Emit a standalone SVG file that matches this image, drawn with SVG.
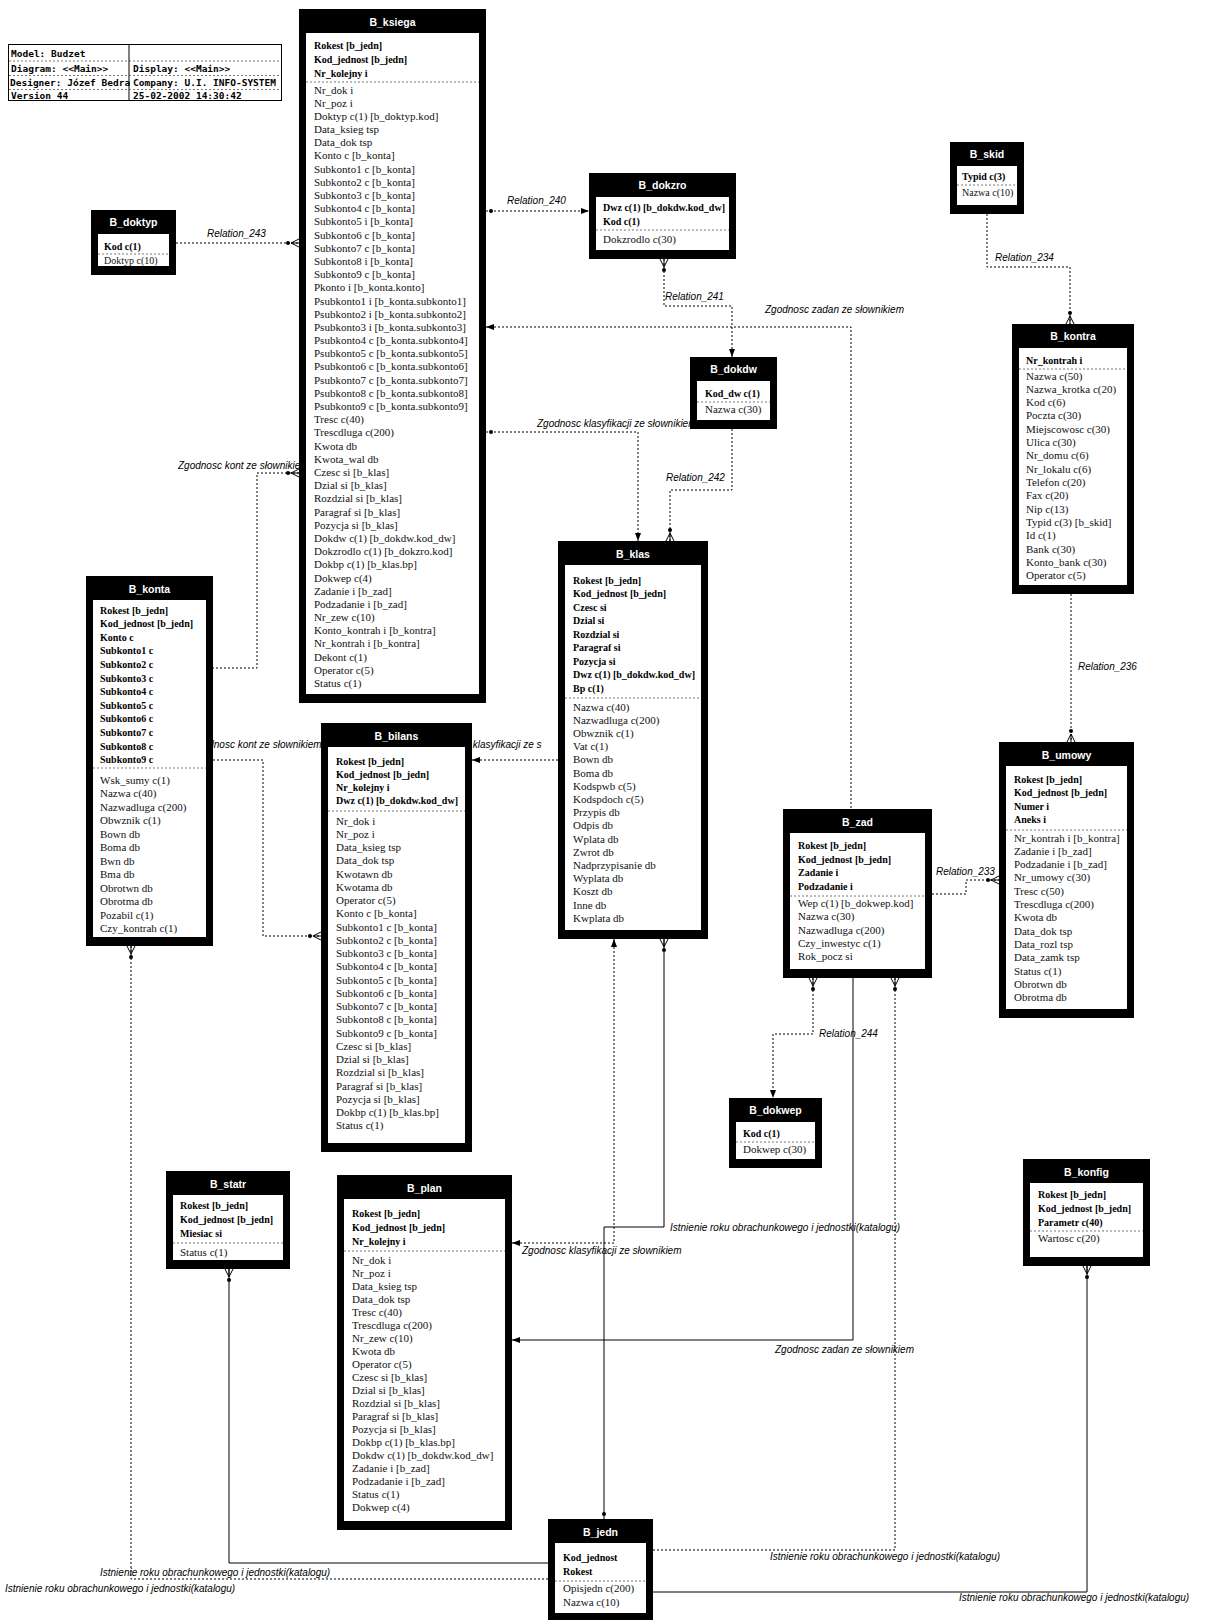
<svg xmlns="http://www.w3.org/2000/svg" width="1231" height="1620" viewBox="0 0 1231 1620">
<style>
.ob{fill:#000}
.ib{fill:#fff}
.tt{font-family:"Liberation Sans",Arial,sans-serif;font-weight:bold;font-size:10.5px;fill:#fff;text-anchor:middle}
.k{font-family:"Liberation Serif","Times New Roman",serif;font-size:10px;font-weight:bold;fill:#000}
.a{font-family:"Liberation Serif","Times New Roman",serif;font-size:11px;fill:#111}
.sm{font-size:10px}
.sep{stroke:#555;stroke-width:0.8;stroke-dasharray:2 2}
.cn{fill:none;stroke:#000;stroke-width:1}
.d{stroke-dasharray:2 2}
.lb{font-family:"Liberation Sans",Arial,sans-serif;font-style:italic;font-size:10px;fill:#000}
.inf{font-family:"DejaVu Sans Mono",monospace;font-weight:bold;font-size:9.5px;fill:#000}
</style>
<defs>
<marker id="cf" viewBox="0 0 14 10" refX="14" refY="5" markerWidth="14" markerHeight="10" markerUnits="userSpaceOnUse" orient="auto-start-reverse">
<path d="M6,5 L14,1 M6,5 L14,9 M6,5 L14,5" stroke="#000" stroke-width="1" fill="none"/>
<circle cx="3" cy="5" r="2" fill="#000"/>
</marker>
<marker id="ar" viewBox="0 0 8 8" refX="8" refY="4" markerWidth="8" markerHeight="8" markerUnits="userSpaceOnUse" orient="auto-start-reverse">
<path d="M0,1 L8,4 L0,7 z" fill="#000"/>
</marker>
<marker id="dt" viewBox="0 0 8 6" refX="8" refY="3" markerWidth="8" markerHeight="6" markerUnits="userSpaceOnUse" orient="auto-start-reverse">
<circle cx="3" cy="3" r="2" fill="#000"/>
</marker>
<clipPath id="c5"><rect x="530" y="410" width="160" height="25"/></clipPath>
<clipPath id="c7"><rect x="170" y="455" width="129" height="20"/></clipPath>
<clipPath id="c8"><rect x="213" y="735" width="108" height="20"/></clipPath>
<clipPath id="c9"><rect x="472" y="735" width="86" height="20"/></clipPath>
</defs>
<rect width="1231" height="1620" fill="#fff"/>

<g id="info">
<rect x="8.5" y="44.5" width="273" height="56" fill="none" stroke="#000" stroke-width="1"/>
<line x1="129" y1="44" x2="129" y2="101" stroke="#000"/>
<line class="sep" x1="9" y1="61" x2="281" y2="61"/>
<line class="sep" x1="9" y1="75.5" x2="281" y2="75.5"/>
<line class="sep" x1="9" y1="89.5" x2="281" y2="89.5"/>
<text class="inf" x="11" y="57">Model: Budzet</text>
<text class="inf" x="11" y="72">Diagram: &lt;&lt;Main&gt;&gt;</text>
<text class="inf" x="10" y="86">Designer: Józef Bedra</text>
<text class="inf" x="11" y="99">Version  44</text>
<text class="inf" x="133" y="72">Display: &lt;&lt;Main&gt;&gt;</text>
<text class="inf" x="133" y="86">Company: U.I. INFO-SYSTEM</text>
<text class="inf" x="133" y="99">25-02-2002  14:30:42</text>
</g>

<g id="connectors">
<path class="cn d" d="M176,243 H299" marker-end="url(#cf)"/>
<path class="cn d" d="M486,211 H589" marker-start="url(#dt)" marker-end="url(#ar)"/>
<path class="cn d" d="M664,259 V306 H732 V357" marker-start="url(#cf)" marker-end="url(#ar)"/>
<path class="cn d" d="M486,327 H851 V809" marker-start="url(#ar)"/>
<path class="cn d" d="M486,432 H638 V541" marker-start="url(#dt)" marker-end="url(#ar)"/>
<path class="cn d" d="M732,429 V490 H670 V541" marker-end="url(#cf)"/>
<path class="cn d" d="M299,473 H257 V668 H213" marker-start="url(#cf)"/>
<path class="cn d" d="M213,760 H263 V936 H321" marker-end="url(#cf)"/>
<path class="cn d" d="M472,760 H558" marker-start="url(#ar)"/>
<path class="cn d" d="M987,214 V267 H1070 V324" marker-end="url(#cf)"/>
<path class="cn d" d="M1071,594 V742" marker-end="url(#cf)"/>
<path class="cn d" d="M932,894 H966 V880 H999" marker-end="url(#cf)"/>
<path class="cn d" d="M813,978 V1034 H773 V1098" marker-start="url(#cf)" marker-end="url(#ar)"/>
<path class="cn" d="M853,978 V1340 H512" marker-end="url(#ar)"/>
<path class="cn d" d="M895,978 V1550 H653" marker-start="url(#cf)"/>
<path class="cn" d="M1087,1266 V1592 H653" marker-start="url(#cf)"/>
<path class="cn" d="M229,1269 V1563 H548" marker-start="url(#cf)"/>
<path class="cn d" d="M131,946 V1579 H548" marker-start="url(#cf)"/>
<path class="cn d" d="M614,939 V1243 H512" marker-start="url(#ar)" marker-end="url(#ar)"/>
<path class="cn" d="M664,939 V1227 H604 V1519" marker-start="url(#cf)" marker-end="url(#dt)"/>
<text class="lb" x="207" y="237">Relation_243</text>
<text class="lb" x="507" y="204">Relation_240</text>
<text class="lb" x="665" y="300">Relation_241</text>
<text class="lb" x="765" y="313">Zgodnosc zadan ze słownikiem</text>
<text class="lb" x="537" y="427" clip-path="url(#c5)">Zgodnosc klasyfikacji ze słownikiem</text>
<text class="lb" x="666" y="481">Relation_242</text>
<text class="lb" x="178" y="469" clip-path="url(#c7)">Zgodnosc kont ze słownikiem</text>
<text class="lb" x="191" y="748" clip-path="url(#c8)">Zgodnosc kont ze słownikiem</text>
<text class="lb" x="426" y="748" clip-path="url(#c9)">Zgodnosc klasyfikacji ze s</text>
<text class="lb" x="995" y="261">Relation_234</text>
<text class="lb" x="1078" y="670">Relation_236</text>
<text class="lb" x="936" y="875">Relation_233</text>
<text class="lb" x="819" y="1037">Relation_244</text>
<text class="lb" x="775" y="1353">Zgodnosc zadan ze słownikiem</text>
<text class="lb" x="770" y="1560">Istnienie roku obrachunkowego i jednostki(katalogu)</text>
<text class="lb" x="959" y="1601">Istnienie roku obrachunkowego i jednostki(katalogu)</text>
<text class="lb" x="100" y="1576">Istnienie roku obrachunkowego i jednostki(katalogu)</text>
<text class="lb" x="5" y="1592">Istnienie roku obrachunkowego i jednostki(katalogu)</text>
<text class="lb" x="522" y="1254">Zgodnosc klasyfikacji ze słownikiem</text>
<text class="lb" x="670" y="1231">Istnienie roku obrachunkowego i jednostki(katalogu)</text>
</g>

<g id="B_ksiega">
<rect class="ob" x="299" y="9" width="187" height="694"/>
<rect class="ib" x="306" y="33" width="173" height="661"/>
<text class="tt" x="392.5" y="26">B_ksiega</text>
<line class="sep" x1="306" y1="82" x2="479" y2="82"/>
<text class="k" x="314" y="49"><tspan x="314">Rokest [b_jedn]</tspan><tspan x="314" dy="14">Kod_jednost [b_jedn]</tspan><tspan x="314" dy="14">Nr_kolejny i</tspan></text>
<text class="a" x="314" y="93.5"><tspan x="314">Nr_dok i</tspan><tspan x="314" dy="13.19">Nr_poz i</tspan><tspan x="314" dy="13.19">Doktyp c(1) [b_doktyp.kod]</tspan><tspan x="314" dy="13.19">Data_ksieg tsp</tspan><tspan x="314" dy="13.19">Data_dok tsp</tspan><tspan x="314" dy="13.19">Konto c [b_konta]</tspan><tspan x="314" dy="13.19">Subkonto1 c [b_konta]</tspan><tspan x="314" dy="13.19">Subkonto2 c [b_konta]</tspan><tspan x="314" dy="13.19">Subkonto3 c [b_konta]</tspan><tspan x="314" dy="13.19">Subkonto4 c [b_konta]</tspan><tspan x="314" dy="13.19">Subkonto5 i [b_konta]</tspan><tspan x="314" dy="13.19">Subkonto6 c [b_konta]</tspan><tspan x="314" dy="13.19">Subkonto7 c [b_konta]</tspan><tspan x="314" dy="13.19">Subkonto8 i [b_konta]</tspan><tspan x="314" dy="13.19">Subkonto9 c [b_konta]</tspan><tspan x="314" dy="13.19">Pkonto i [b_konta.konto]</tspan><tspan x="314" dy="13.19">Psubkonto1 i [b_konta.subkonto1]</tspan><tspan x="314" dy="13.19">Psubkonto2 i [b_konta.subkonto2]</tspan><tspan x="314" dy="13.19">Psubkonto3 i [b_konta.subkonto3]</tspan><tspan x="314" dy="13.19">Psubkonto4 c [b_konta.subkonto4]</tspan><tspan x="314" dy="13.19">Psubkonto5 c [b_konta.subkonto5]</tspan><tspan x="314" dy="13.19">Psubkonto6 c [b_konta.subkonto6]</tspan><tspan x="314" dy="13.19">Psubkonto7 c [b_konta.subkonto7]</tspan><tspan x="314" dy="13.19">Psubkonto8 c [b_konta.subkonto8]</tspan><tspan x="314" dy="13.19">Psubkonto9 c [b_konta.subkonto9]</tspan><tspan x="314" dy="13.19">Tresc c(40)</tspan><tspan x="314" dy="13.19">Trescdluga c(200)</tspan><tspan x="314" dy="13.19">Kwota db</tspan><tspan x="314" dy="13.19">Kwota_wal db</tspan><tspan x="314" dy="13.19">Czesc si [b_klas]</tspan><tspan x="314" dy="13.19">Dzial si [b_klas]</tspan><tspan x="314" dy="13.19">Rozdzial si [b_klas]</tspan><tspan x="314" dy="13.19">Paragraf si [b_klas]</tspan><tspan x="314" dy="13.19">Pozycja si [b_klas]</tspan><tspan x="314" dy="13.19">Dokdw c(1) [b_dokdw.kod_dw]</tspan><tspan x="314" dy="13.19">Dokzrodlo c(1) [b_dokzro.kod]</tspan><tspan x="314" dy="13.19">Dokbp c(1) [b_klas.bp]</tspan><tspan x="314" dy="13.19">Dokwep c(4)</tspan><tspan x="314" dy="13.19">Zadanie i [b_zad]</tspan><tspan x="314" dy="13.19">Podzadanie i [b_zad]</tspan><tspan x="314" dy="13.19">Nr_zew c(10)</tspan><tspan x="314" dy="13.19">Konto_kontrah i [b_kontra]</tspan><tspan x="314" dy="13.19">Nr_kontrah i [b_kontra]</tspan><tspan x="314" dy="13.19">Dekont c(1)</tspan><tspan x="314" dy="13.19">Operator c(5)</tspan><tspan x="314" dy="13.19">Status c(1)</tspan></text>
</g>

<g id="B_doktyp">
<rect class="ob" x="91" y="210" width="85" height="65"/>
<rect class="ib" x="98" y="234" width="71" height="32"/>
<text class="tt" x="133.5" y="226">B_doktyp</text>
<line class="sep" x1="98" y1="254" x2="169" y2="254"/>
<text class="k" x="104" y="249.5">Kod c(1)</text>
<text class="a sm" x="104" y="264">Doktyp c(10)</text>
</g>

<g id="B_dokzro">
<rect class="ob" x="589" y="173" width="147" height="86"/>
<rect class="ib" x="596" y="197" width="133" height="53"/>
<text class="tt" x="662.5" y="189">B_dokzro</text>
<line class="sep" x1="596" y1="230" x2="729" y2="230"/>
<text class="k" x="603" y="210.5"><tspan x="603">Dwz c(1) [b_dokdw.kod_dw]</tspan><tspan x="603" dy="14">Kod c(1)</tspan></text>
<text class="a" x="603" y="242.5">Dokzrodlo c(30)</text>
</g>

<g id="B_dokdw">
<rect class="ob" x="690" y="357" width="87" height="72"/>
<rect class="ib" x="697" y="381" width="73" height="39"/>
<text class="tt" x="733.5" y="373">B_dokdw</text>
<line class="sep" x1="697" y1="402" x2="770" y2="402"/>
<text class="k" x="705" y="396.5">Kod_dw c(1)</text>
<text class="a" x="705" y="412.5">Nazwa c(30)</text>
</g>

<g id="B_skid">
<rect class="ob" x="950" y="142" width="74" height="72"/>
<rect class="ib" x="957" y="166" width="60" height="39"/>
<text class="tt" x="987" y="158">B_skid</text>
<line class="sep" x1="957" y1="185" x2="1017" y2="185"/>
<text class="k" x="962" y="179.5">Typid c(3)</text>
<text class="a sm" x="962" y="195.5">Nazwa c(10)</text>
</g>

<g id="B_kontra">
<rect class="ob" x="1012" y="324" width="122" height="270"/>
<rect class="ib" x="1019" y="348" width="108" height="237"/>
<text class="tt" x="1073" y="340">B_kontra</text>
<line class="sep" x1="1019" y1="369" x2="1127" y2="369"/>
<text class="k" x="1026" y="363.5">Nr_kontrah i</text>
<text class="a" x="1026" y="379.5"><tspan x="1026">Nazwa c(50)</tspan><tspan x="1026" dy="13.33">Nazwa_krotka c(20)</tspan><tspan x="1026" dy="13.33">Kod c(6)</tspan><tspan x="1026" dy="13.33">Poczta c(30)</tspan><tspan x="1026" dy="13.33">Miejscowosc c(30)</tspan><tspan x="1026" dy="13.33">Ulica c(30)</tspan><tspan x="1026" dy="13.33">Nr_domu c(6)</tspan><tspan x="1026" dy="13.33">Nr_lokalu c(6)</tspan><tspan x="1026" dy="13.33">Telefon c(20)</tspan><tspan x="1026" dy="13.33">Fax c(20)</tspan><tspan x="1026" dy="13.33">Nip c(13)</tspan><tspan x="1026" dy="13.33">Typid c(3) [b_skid]</tspan><tspan x="1026" dy="13.33">Id c(1)</tspan><tspan x="1026" dy="13.33">Bank c(30)</tspan><tspan x="1026" dy="13.33">Konto_bank c(30)</tspan><tspan x="1026" dy="13.33">Operator c(5)</tspan></text>
</g>

<g id="B_konta">
<rect class="ob" x="86" y="576" width="127" height="370"/>
<rect class="ib" x="93" y="600" width="113" height="337"/>
<text class="tt" x="149.5" y="593">B_konta</text>
<line class="sep" x1="93" y1="768" x2="206" y2="768"/>
<text class="k" x="100" y="613.5"><tspan x="100">Rokest [b_jedn]</tspan><tspan x="100" dy="13.6">Kod_jednost [b_jedn]</tspan><tspan x="100" dy="13.6">Konto c</tspan><tspan x="100" dy="13.6">Subkonto1 c</tspan><tspan x="100" dy="13.6">Subkonto2 c</tspan><tspan x="100" dy="13.6">Subkonto3 c</tspan><tspan x="100" dy="13.6">Subkonto4 c</tspan><tspan x="100" dy="13.6">Subkonto5 c</tspan><tspan x="100" dy="13.6">Subkonto6 c</tspan><tspan x="100" dy="13.6">Subkonto7 c</tspan><tspan x="100" dy="13.6">Subkonto8 c</tspan><tspan x="100" dy="13.6">Subkonto9 c</tspan></text>
<text class="a" x="100" y="783.5"><tspan x="100">Wsk_sumy c(1)</tspan><tspan x="100" dy="13.5">Nazwa c(40)</tspan><tspan x="100" dy="13.5">Nazwadluga c(200)</tspan><tspan x="100" dy="13.5">Obwznik c(1)</tspan><tspan x="100" dy="13.5">Bown db</tspan><tspan x="100" dy="13.5">Boma db</tspan><tspan x="100" dy="13.5">Bwn db</tspan><tspan x="100" dy="13.5">Bma db</tspan><tspan x="100" dy="13.5">Obrotwn db</tspan><tspan x="100" dy="13.5">Obrotma db</tspan><tspan x="100" dy="13.5">Pozabil c(1)</tspan><tspan x="100" dy="13.5">Czy_kontrah c(1)</tspan></text>
</g>

<g id="B_bilans">
<rect class="ob" x="321" y="723" width="151" height="429"/>
<rect class="ib" x="328" y="747" width="137" height="396"/>
<text class="tt" x="396.5" y="740">B_bilans</text>
<line class="sep" x1="328" y1="811" x2="465" y2="811"/>
<text class="k" x="336" y="764.5"><tspan x="336">Rokest [b_jedn]</tspan><tspan x="336" dy="13.3">Kod_jednost [b_jedn]</tspan><tspan x="336" dy="13.3">Nr_kolejny i</tspan><tspan x="336" dy="13.3">Dwz c(1) [b_dokdw.kod_dw]</tspan></text>
<text class="a" x="336" y="824.5"><tspan x="336">Nr_dok i</tspan><tspan x="336" dy="13.26">Nr_poz i</tspan><tspan x="336" dy="13.26">Data_ksieg tsp</tspan><tspan x="336" dy="13.26">Data_dok tsp</tspan><tspan x="336" dy="13.26">Kwotawn db</tspan><tspan x="336" dy="13.26">Kwotama db</tspan><tspan x="336" dy="13.26">Operator c(5)</tspan><tspan x="336" dy="13.26">Konto c [b_konta]</tspan><tspan x="336" dy="13.26">Subkonto1 c [b_konta]</tspan><tspan x="336" dy="13.26">Subkonto2 c [b_konta]</tspan><tspan x="336" dy="13.26">Subkonto3 c [b_konta]</tspan><tspan x="336" dy="13.26">Subkonto4 c [b_konta]</tspan><tspan x="336" dy="13.26">Subkonto5 c [b_konta]</tspan><tspan x="336" dy="13.26">Subkonto6 c [b_konta]</tspan><tspan x="336" dy="13.26">Subkonto7 c [b_konta]</tspan><tspan x="336" dy="13.26">Subkonto8 c [b_konta]</tspan><tspan x="336" dy="13.26">Subkonto9 c [b_konta]</tspan><tspan x="336" dy="13.26">Czesc si [b_klas]</tspan><tspan x="336" dy="13.26">Dzial si [b_klas]</tspan><tspan x="336" dy="13.26">Rozdzial si [b_klas]</tspan><tspan x="336" dy="13.26">Paragraf si [b_klas]</tspan><tspan x="336" dy="13.26">Pozycja si [b_klas]</tspan><tspan x="336" dy="13.26">Dokbp c(1) [b_klas.bp]</tspan><tspan x="336" dy="13.26">Status c(1)</tspan></text>
</g>

<g id="B_klas">
<rect class="ob" x="558" y="541" width="150" height="398"/>
<rect class="ib" x="565" y="565" width="136" height="365"/>
<text class="tt" x="633" y="558">B_klas</text>
<line class="sep" x1="565" y1="698" x2="701" y2="698"/>
<text class="k" x="573" y="583.5"><tspan x="573">Rokest [b_jedn]</tspan><tspan x="573" dy="13.5">Kod_jednost [b_jedn]</tspan><tspan x="573" dy="13.5">Czesc si</tspan><tspan x="573" dy="13.5">Dzial si</tspan><tspan x="573" dy="13.5">Rozdzial si</tspan><tspan x="573" dy="13.5">Paragraf si</tspan><tspan x="573" dy="13.5">Pozycja si</tspan><tspan x="573" dy="13.5">Dwz c(1) [b_dokdw.kod_dw]</tspan><tspan x="573" dy="13.5">Bp c(1)</tspan></text>
<text class="a" x="573" y="710.5"><tspan x="573">Nazwa c(40)</tspan><tspan x="573" dy="13.2">Nazwadluga c(200)</tspan><tspan x="573" dy="13.2">Obwznik c(1)</tspan><tspan x="573" dy="13.2">Vat c(1)</tspan><tspan x="573" dy="13.2">Bown db</tspan><tspan x="573" dy="13.2">Boma db</tspan><tspan x="573" dy="13.2">Kodspwb c(5)</tspan><tspan x="573" dy="13.2">Kodspdoch c(5)</tspan><tspan x="573" dy="13.2">Przypis db</tspan><tspan x="573" dy="13.2">Odpis db</tspan><tspan x="573" dy="13.2">Wplata db</tspan><tspan x="573" dy="13.2">Zwrot db</tspan><tspan x="573" dy="13.2">Nadprzypisanie db</tspan><tspan x="573" dy="13.2">Wyplata db</tspan><tspan x="573" dy="13.2">Koszt db</tspan><tspan x="573" dy="13.2">Inne db</tspan><tspan x="573" dy="13.2">Kwplata db</tspan></text>
</g>

<g id="B_zad">
<rect class="ob" x="783" y="809" width="149" height="169"/>
<rect class="ib" x="790" y="833" width="135" height="136"/>
<text class="tt" x="857.5" y="826">B_zad</text>
<line class="sep" x1="790" y1="896" x2="925" y2="896"/>
<text class="k" x="798" y="849"><tspan x="798">Rokest [b_jedn]</tspan><tspan x="798" dy="13.5">Kod_jednost [b_jedn]</tspan><tspan x="798" dy="13.5">Zadanie i</tspan><tspan x="798" dy="13.5">Podzadanie i</tspan></text>
<text class="a" x="798" y="907"><tspan x="798">Wep c(1) [b_dokwep.kod]</tspan><tspan x="798" dy="13.3">Nazwa c(30)</tspan><tspan x="798" dy="13.3">Nazwadluga c(200)</tspan><tspan x="798" dy="13.3">Czy_inwestyc c(1)</tspan><tspan x="798" dy="13.3">Rok_pocz si</tspan></text>
</g>

<g id="B_umowy">
<rect class="ob" x="999" y="742" width="135" height="276"/>
<rect class="ib" x="1006" y="766" width="121" height="243"/>
<text class="tt" x="1066.5" y="759">B_umowy</text>
<line class="sep" x1="1006" y1="830" x2="1127" y2="830"/>
<text class="k" x="1014" y="782.5"><tspan x="1014">Rokest [b_jedn]</tspan><tspan x="1014" dy="13.5">Kod_jednost [b_jedn]</tspan><tspan x="1014" dy="13.5">Numer i</tspan><tspan x="1014" dy="13.5">Aneks i</tspan></text>
<text class="a" x="1014" y="841.5"><tspan x="1014">Nr_kontrah i [b_kontra]</tspan><tspan x="1014" dy="13.3">Zadanie i [b_zad]</tspan><tspan x="1014" dy="13.3">Podzadanie i [b_zad]</tspan><tspan x="1014" dy="13.3">Nr_umowy c(30)</tspan><tspan x="1014" dy="13.3">Tresc c(50)</tspan><tspan x="1014" dy="13.3">Trescdluga c(200)</tspan><tspan x="1014" dy="13.3">Kwota db</tspan><tspan x="1014" dy="13.3">Data_dok tsp</tspan><tspan x="1014" dy="13.3">Data_rozl tsp</tspan><tspan x="1014" dy="13.3">Data_zamk tsp</tspan><tspan x="1014" dy="13.3">Status c(1)</tspan><tspan x="1014" dy="13.3">Obrotwn db</tspan><tspan x="1014" dy="13.3">Obrotma db</tspan></text>
</g>

<g id="B_dokwep">
<rect class="ob" x="729" y="1098" width="93" height="70"/>
<rect class="ib" x="736" y="1122" width="79" height="37"/>
<text class="tt" x="775.5" y="1114">B_dokwep</text>
<line class="sep" x1="736" y1="1142" x2="815" y2="1142"/>
<text class="k" x="743" y="1136.5">Kod c(1)</text>
<text class="a" x="743" y="1152.5">Dokwep c(30)</text>
</g>

<g id="B_konfig">
<rect class="ob" x="1023" y="1159" width="127" height="107"/>
<rect class="ib" x="1030" y="1183" width="113" height="74"/>
<text class="tt" x="1086.5" y="1176">B_konfig</text>
<line class="sep" x1="1030" y1="1231" x2="1143" y2="1231"/>
<text class="k" x="1038" y="1197.5"><tspan x="1038">Rokest [b_jedn]</tspan><tspan x="1038" dy="14">Kod_jednost [b_jedn]</tspan><tspan x="1038" dy="14">Parametr c(40)</tspan></text>
<text class="a" x="1038" y="1242">Wartosc c(20)</text>
</g>

<g id="B_statr">
<rect class="ob" x="166" y="1171" width="124" height="98"/>
<rect class="ib" x="173" y="1195" width="110" height="65"/>
<text class="tt" x="228" y="1188">B_statr</text>
<line class="sep" x1="173" y1="1243" x2="283" y2="1243"/>
<text class="k" x="180" y="1208.5"><tspan x="180">Rokest [b_jedn]</tspan><tspan x="180" dy="14">Kod_jednost [b_jedn]</tspan><tspan x="180" dy="14">Miesiac si</tspan></text>
<text class="a" x="180" y="1255.5">Status c(1)</text>
</g>

<g id="B_plan">
<rect class="ob" x="337" y="1175" width="175" height="355"/>
<rect class="ib" x="344" y="1199" width="161" height="322"/>
<text class="tt" x="424.5" y="1192">B_plan</text>
<line class="sep" x1="344" y1="1251" x2="505" y2="1251"/>
<text class="k" x="352" y="1216.5"><tspan x="352">Rokest [b_jedn]</tspan><tspan x="352" dy="14">Kod_jednost [b_jedn]</tspan><tspan x="352" dy="14">Nr_kolejny i</tspan></text>
<text class="a" x="352" y="1263.5"><tspan x="352">Nr_dok i</tspan><tspan x="352" dy="13.05">Nr_poz i</tspan><tspan x="352" dy="13.05">Data_ksieg tsp</tspan><tspan x="352" dy="13.05">Data_dok tsp</tspan><tspan x="352" dy="13.05">Tresc c(40)</tspan><tspan x="352" dy="13.05">Trescdluga c(200)</tspan><tspan x="352" dy="13.05">Nr_zew c(10)</tspan><tspan x="352" dy="13.05">Kwota db</tspan><tspan x="352" dy="13.05">Operator c(5)</tspan><tspan x="352" dy="13.05">Czesc si [b_klas]</tspan><tspan x="352" dy="13.05">Dzial si [b_klas]</tspan><tspan x="352" dy="13.05">Rozdzial si [b_klas]</tspan><tspan x="352" dy="13.05">Paragraf si [b_klas]</tspan><tspan x="352" dy="13.05">Pozycja si [b_klas]</tspan><tspan x="352" dy="13.05">Dokbp c(1) [b_klas.bp]</tspan><tspan x="352" dy="13.05">Dokdw c(1) [b_dokdw.kod_dw]</tspan><tspan x="352" dy="13.05">Zadanie i [b_zad]</tspan><tspan x="352" dy="13.05">Podzadanie i [b_zad]</tspan><tspan x="352" dy="13.05">Status c(1)</tspan><tspan x="352" dy="13.05">Dokwep c(4)</tspan></text>
</g>

<g id="B_jedn">
<rect class="ob" x="548" y="1519" width="105" height="103"/>
<rect class="ib" x="555" y="1543" width="91" height="70"/>
<text class="tt" x="600.5" y="1536">B_jedn</text>
<line class="sep" x1="555" y1="1581" x2="646" y2="1581"/>
<text class="k" x="563" y="1561"><tspan x="563">Kod_jednost</tspan><tspan x="563" dy="13.5">Rokest</tspan></text>
<text class="a" x="563" y="1592"><tspan x="563">Opisjedn c(200)</tspan><tspan x="563" dy="14">Nazwa c(10)</tspan></text>
</g>
</svg>
